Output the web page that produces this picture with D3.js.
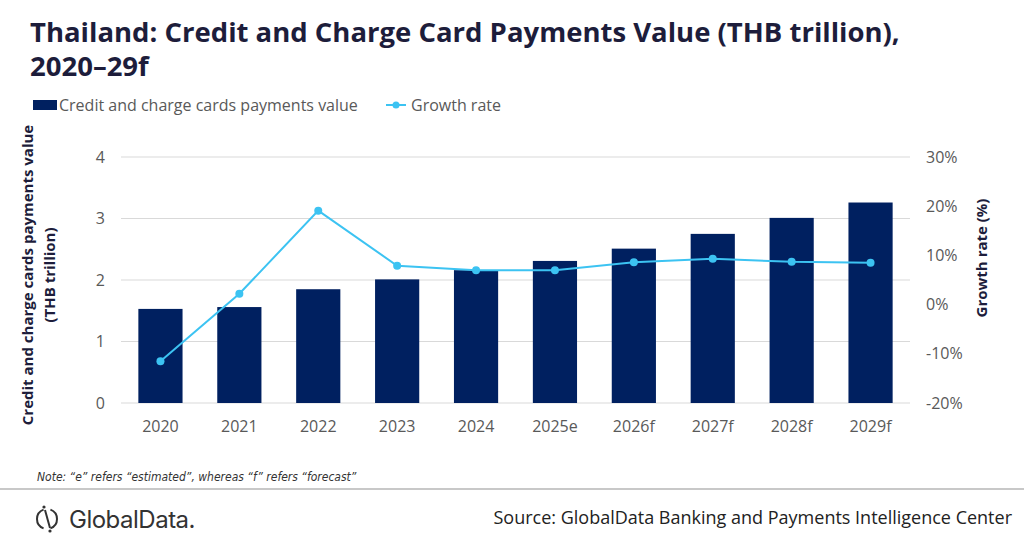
<!DOCTYPE html>
<html>
<head>
<meta charset="utf-8">
<script src="https://d3js.org/d3.v7.min.js"></script>
<style>
  body { margin: 0; background: #fff; }
  svg { display: block; }
  .tick text { font-family: "Open Sans", "Noto Sans", sans-serif; }
</style>
</head>
<body>
<svg id="chart"></svg>
<script>
// chart values
const years = ["2020", "2021", "2022", "2023", "2024", "2025e", "2026f", "2027f", "2028f", "2029f"];
const paymentsValue = [1.53, 1.56, 1.85, 2.01, 2.16, 2.31, 2.51, 2.75, 3.01, 3.26];
const growthRate = [-11.5, 2.2, 19.1, 7.9, 7.0, 7.0, 8.6, 9.3, 8.7, 8.5];
const leftTicks = [0, 1, 2, 3, 4];
const rightTicks = [-20, -10, 0, 10, 20, 30];

const width = 1024, height = 542;
const margin = {top: 157, right: 114, bottom: 139, left: 121};
const innerW = width - margin.left - margin.right;
const innerH = height - margin.top - margin.bottom;

const navy = "#002060";
const cyan = "#3cc3f2";
const textGrey = "#595959";
const titleCol = "#1d1d3b";

let svg = d3.select("#chart")
  .attr("width", width)
  .attr("height", height);

// title
let title = svg.append("text")
  .attr("x", 30)
  .attr("font-family", "'Open Sans', 'Noto Sans', sans-serif")
  .attr("font-weight", "bold")
  .attr("font-size", 27.5)
  .attr("fill", titleCol);
title.append("tspan").attr("x", 30).attr("y", 42)
  .text("Thailand: Credit and Charge Card Payments Value (THB trillion),");
title.append("tspan").attr("x", 30).attr("y", 76).text("2020\u201329f");

// legend
let legend = svg.append("g")
  .attr("font-family", "'Open Sans', 'Noto Sans', sans-serif")
  .attr("font-size", 16)
  .attr("fill", textGrey);
legend.append("rect").attr("x", 33).attr("y", 100).attr("width", 24).attr("height", 10).attr("fill", navy);
legend.append("text").attr("x", 59).attr("y", 110.5).text("Credit and charge cards payments value");
legend.append("line").attr("x1", 386).attr("x2", 406).attr("y1", 105).attr("y2", 105)
  .attr("stroke", cyan).attr("stroke-width", 2);
legend.append("circle").attr("cx", 396).attr("cy", 105).attr("r", 3.5).attr("fill", cyan);
legend.append("text").attr("x", 411).attr("y", 110.5).text("Growth rate");

let chart = svg.append("g")
  .attr("transform", `translate(${margin.left},${margin.top})`);

// scales
let xScale = d3.scaleBand()
  .domain(years)
  .range([0, innerW])
  .paddingInner(0.44)
  .paddingOuter(0.22);

let yLeft = d3.scaleLinear().domain([0, 4]).range([innerH, 0]);
let yRight = d3.scaleLinear().domain([-20, 30]).range([innerH, 0]);

// gridlines
chart.append("g")
  .selectAll("line")
  .data(leftTicks)
  .enter()
  .append("line")
    .attr("x1", 0)
    .attr("x2", innerW)
    .attr("y1", d => yLeft(d))
    .attr("y2", d => yLeft(d))
    .attr("stroke", "#d9d9d9")
    .attr("stroke-width", 1);

// axes
let leftAxis = d3.axisLeft(yLeft).tickValues(leftTicks).tickSize(0).tickPadding(16).tickFormat(d3.format("d"));
let rightAxis = d3.axisRight(yRight).tickValues(rightTicks).tickSize(0).tickPadding(16).tickFormat(d => d + "%");
let bottomAxis = d3.axisBottom(xScale).tickSize(0).tickPadding(18);

let styleAxis = g => {
  g.select(".domain").remove();
  g.selectAll("text").attr("font-size", 16).attr("fill", textGrey);
};

chart.append("g").call(leftAxis).call(styleAxis);
chart.append("g").attr("transform", `translate(${innerW},0)`).call(rightAxis).call(styleAxis);
chart.append("g").attr("transform", `translate(0,${innerH})`).call(bottomAxis).call(styleAxis);

// bars
chart.selectAll(".bar")
  .data(paymentsValue)
  .enter()
  .append("rect")
    .attr("class", "bar")
    .attr("x", (d, i) => xScale(years[i]))
    .attr("y", d => yLeft(d))
    .attr("width", xScale.bandwidth())
    .attr("height", d => innerH - yLeft(d))
    .attr("fill", navy);

// growth line
let line = d3.line()
  .x((d, i) => xScale(years[i]) + xScale.bandwidth() / 2)
  .y(d => yRight(d));

chart.append("path")
  .datum(growthRate)
  .attr("d", line)
  .attr("fill", "none")
  .attr("stroke", cyan)
  .attr("stroke-width", 2);

chart.selectAll(".dot")
  .data(growthRate)
  .enter()
  .append("circle")
    .attr("class", "dot")
    .attr("cx", (d, i) => xScale(years[i]) + xScale.bandwidth() / 2)
    .attr("cy", d => yRight(d))
    .attr("r", 4)
    .attr("fill", cyan);

// axis titles
let leftTitle = svg.append("text")
  .attr("transform", "translate(0,275) rotate(-90)")
  .attr("text-anchor", "middle")
  .attr("font-family", "'Open Sans', 'Noto Sans', sans-serif")
  .attr("font-weight", "bold")
  .attr("font-size", 15)
  .attr("fill", titleCol);
leftTitle.append("tspan").attr("x", 0).attr("y", 33).text("Credit and charge cards payments value");
leftTitle.append("tspan").attr("x", 0).attr("y", 55).text("(THB trillion)");

svg.append("text")
  .attr("transform", "translate(987,258) rotate(-90)")
  .attr("text-anchor", "middle")
  .attr("font-family", "'Open Sans', 'Noto Sans', sans-serif")
  .attr("font-weight", "bold")
  .attr("font-size", 15)
  .attr("fill", titleCol)
  .text("Growth rate (%)");

// note and footer
svg.append("text")
  .attr("x", 37).attr("y", 481)
  .attr("font-family", "'Liberation Sans Narrow', 'DejaVu Sans Condensed', sans-serif")
  .attr("font-style", "italic")
  .attr("font-size", 12)
  .attr("fill", "#333")
  .text("Note: \u201ce\u201d refers \u201cestimated\u201d, whereas \u201cf\u201d refers \u201cforecast\u201d");

svg.append("line")
  .attr("x1", 0).attr("x2", width)
  .attr("y1", 489).attr("y2", 489)
  .attr("stroke", "#c8c8c8").attr("stroke-width", 2);

svg.append("text")
  .attr("x", 1012).attr("y", 524)
  .attr("text-anchor", "end")
  .attr("font-family", "'Open Sans', 'Noto Sans', sans-serif")
  .attr("font-size", 18)
  .attr("fill", "#222")
  .text("Source: GlobalData Banking and Payments Intelligence Center");

// logo
let logo = svg.append("g").attr("transform", "translate(47,519)");
logo.append("path")
  .attr("d", d3.arc()({innerRadius: 9, outerRadius: 11, startAngle: 0.35, endAngle: Math.PI - 0.35}))
  .attr("fill", "#333");
logo.append("path")
  .attr("d", d3.arc()({innerRadius: 9, outerRadius: 11, startAngle: Math.PI + 0.35, endAngle: 2 * Math.PI - 0.35}))
  .attr("fill", "#333");
logo.append("line").attr("x1", -2).attr("y1", -9).attr("x2", 3).attr("y2", 9)
  .attr("stroke", "#333").attr("stroke-width", 2);
logo.append("circle").attr("cx", -3).attr("cy", -12).attr("r", 1.6).attr("fill", "#333");
logo.append("circle").attr("cx", 3).attr("cy", 12).attr("r", 1.6).attr("fill", "#333");
logo.append("text")
  .attr("x", 22).attr("y", 8.5)
  .attr("font-family", "Inter, 'Noto Sans', sans-serif")
  .attr("font-size", 24)
  .attr("fill", "#333")
  .attr("letter-spacing", -0.5)
  .text("GlobalData.");
</script>
</body>
</html>
